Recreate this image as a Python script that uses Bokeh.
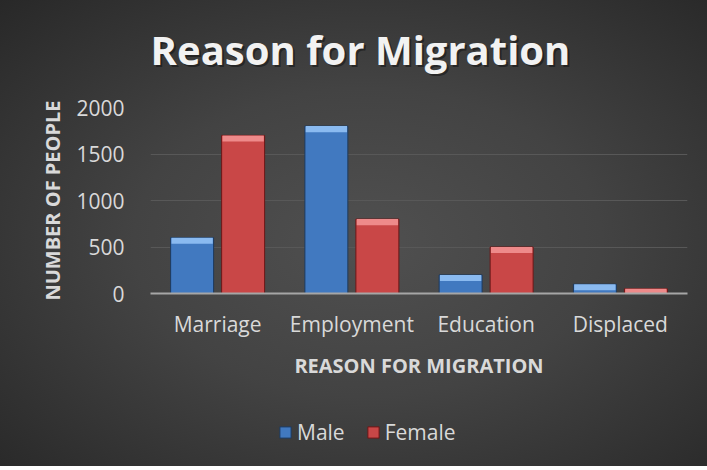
from bokeh.plotting import figure
from bokeh.models import (FactorRange, Range1d, ColumnDataSource, Legend, LegendItem, Label)
from bokeh.layouts import column
from bokeh.transform import dodge
from bokeh.embed import file_html
from bokeh.resources import INLINE

categories = ["Marriage", "Employment", "Education", "Displaced"]
male = [600, 1800, 200, 100]
female = [1700, 800, 500, 50]
y_ticks = [0, 500, 1000, 1500, 2000]
series_names = ["Male", "Female"]
title_text = "Reason for Migration"

BEVEL = 65  # top bevel depth in data units (decoration)

src = ColumnDataSource(dict(
    cat=categories,
    male=male,
    female=female,
    male_cap=[max(v - BEVEL, 0) for v in male],
    female_cap=[max(v - BEVEL, 0) for v in female],
))

FONT = "Open Sans"
TXT = "#d9d9d9"
BLUE, BLUE_HI, BLUE_LN = "#4179c0", "#8abaf0", "#1d3a5e"
RED, RED_HI, RED_LN = "#c94747", "#ee8a8a", "#6e1616"
W = 707


def strip(h, y_range):
    f = figure(width=W, height=h, x_range=FactorRange(*categories, range_padding=0), y_range=y_range,
               x_axis_type=None, y_axis_type=None, min_border=0,
               output_backend="svg", toolbar_location=None)
    f.border_fill_color = None
    f.background_fill_color = None
    f.outline_line_color = None
    f.xgrid.grid_line_color = None
    f.ygrid.grid_line_color = None
    return f


# ---- title strip (its frame is aligned with the chart frame, which starts 150px in)
tf = strip(80, Range1d(0, 1))
tf.add_layout(Label(x=212, y=29, x_units="screen", y_units="screen", text=title_text,
                    text_align="center", text_baseline="alphabetic", text_font=FONT,
                    text_font_style="bold", text_font_size="40px", text_color="#000000",
                    text_alpha=0.4))
tf.add_layout(Label(x=210, y=31, x_units="screen", y_units="screen", text=title_text,
                    text_align="center", text_baseline="alphabetic", text_font=FONT,
                    text_font_style="bold", text_font_size="40px", text_color="#f2f2f2"))

# ---- main chart
p = figure(
    x_range=FactorRange(*categories, range_padding=0),
    y_range=Range1d(0, 2000),
    frame_width=537, frame_height=186,
    min_border_left=150, min_border_right=20,
    min_border_top=27, min_border_bottom=107,
    output_backend="svg", toolbar_location=None,
)
p.border_fill_color = None
p.background_fill_color = None
p.outline_line_color = None

BW = 0.32
OFF = 0.19
p.vbar(x=dodge("cat", -OFF, range=p.x_range), top="male", width=BW, source=src,
       fill_color=BLUE, line_color=BLUE_LN, line_width=1)
p.vbar(x=dodge("cat", -OFF, range=p.x_range), top="male", bottom="male_cap", width=BW - 0.012, source=src,
       fill_color=BLUE_HI, line_color=None)
p.vbar(x=dodge("cat", OFF, range=p.x_range), top="female", width=BW, source=src,
       fill_color=RED, line_color=RED_LN, line_width=1)
p.vbar(x=dodge("cat", OFF, range=p.x_range), top="female", bottom="female_cap", width=BW - 0.012, source=src,
       fill_color=RED_HI, line_color=None)

p.yaxis.ticker = y_ticks
p.yaxis.axis_label = "NUMBER OF PEOPLE"
p.yaxis.major_tick_line_color = None
p.yaxis.minor_tick_line_color = None
p.yaxis.axis_line_color = None
p.yaxis.major_label_standoff = 20
p.yaxis.major_label_text_font = FONT
p.yaxis.major_label_text_font_size = "21px"
p.yaxis.major_label_text_color = TXT
p.yaxis.axis_label_text_font = FONT
p.yaxis.axis_label_text_font_size = "20px"
p.yaxis.axis_label_text_font_style = "bold"
p.yaxis.axis_label_text_color = TXT
p.yaxis.axis_label_standoff = 7

p.xaxis.axis_label = "REASON FOR MIGRATION"
p.xaxis.major_tick_line_color = None
p.xaxis.minor_tick_line_color = None
p.xaxis.axis_line_color = "#a6a6a6"
p.xaxis.axis_line_width = 2
p.xaxis.major_label_standoff = 10
p.xaxis.major_label_text_font = FONT
p.xaxis.major_label_text_font_size = "21px"
p.xaxis.major_label_text_color = TXT
p.xaxis.axis_label_text_font = FONT
p.xaxis.axis_label_text_font_size = "20px"
p.xaxis.axis_label_text_font_style = "bold"
p.xaxis.axis_label_text_color = TXT
p.xaxis.axis_label_standoff = 11

p.xgrid.grid_line_color = None
p.ygrid.grid_line_color = "#585858"
p.ygrid.grid_line_width = 1

# ---- legend strip: same series, drawn below this strip's visible y-range (only the key shows)
lf = strip(66, Range1d(2100, 2200))
lm = lf.vbar(x=dodge("cat", -OFF, range=lf.x_range), top="male", width=BW, source=src,
             fill_color=BLUE, line_color=BLUE_LN)
lfe = lf.vbar(x=dodge("cat", OFF, range=lf.x_range), top="female", width=BW, source=src,
              fill_color=RED, line_color=RED_LN)
legend = Legend(
    items=[LegendItem(label=series_names[0], renderers=[lm]),
           LegendItem(label=series_names[1], renderers=[lfe])],
    orientation="horizontal", location=(128, 20),
    border_line_color=None, background_fill_alpha=0,
    label_text_color=TXT, label_text_font=FONT, label_text_font_size="21px",
    glyph_width=14, glyph_height=14, label_standoff=5, spacing=21,
    padding=0, margin=0,
)
lf.add_layout(legend, "center")

layout = column(tf, p, lf, spacing=0)
layout.styles = {"background": "radial-gradient(ellipse at 52% 52%, #505050 0%, #434343 45%, #282828 100%)"}

open("out.html", "w").write(file_html(layout, INLINE))
